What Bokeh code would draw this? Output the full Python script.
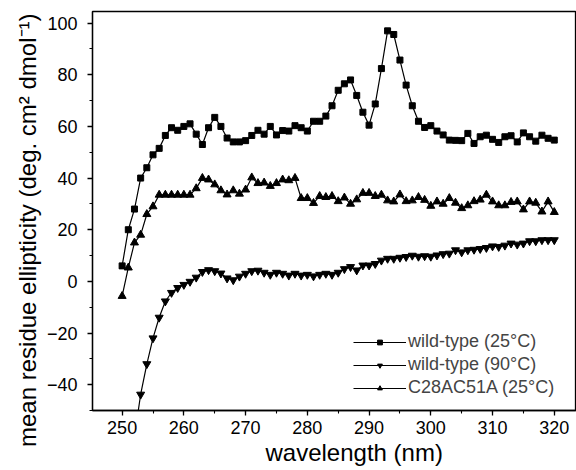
from bokeh.plotting import figure
from bokeh.models import Range1d, SingleIntervalTicker, Legend, LegendItem, Title
from bokeh.embed import file_html
from bokeh.resources import INLINE

# wavelengths (nm)
wl = list(range(250, 321))
wl90 = list(range(252, 321))

# wild-type (25 C)
wt25 = [6, 20, 28, 40, 44, 49, 51.5, 56.5, 59.5, 58.5,
        60, 61, 57, 53, 59.5, 63.5, 60, 55.5, 54, 54,
        54.5, 56.5, 58.5, 57, 60, 56.7, 58.4, 58.2, 60.3, 59.5,
        58.2, 62, 62, 64, 68, 74, 76.5, 78, 72, 65.5,
        60.5, 68.7, 82.4, 97, 95.6, 85.7, 76, 68, 62, 59.6,
        60.3, 58.2, 56.7, 54.7, 54.6, 54.5, 57.3, 53.4, 56, 56.6,
        55, 53.8, 56, 56.4, 54, 57.5, 56, 54.3, 56.6, 55.4, 54.7]

# wild-type (90 C), from 252 nm
wt90 = [-60,
        -43.8, -32, -22, -14, -7.7, -4.4, -2.5,
        -1.3, -0.1, 1.5, 3.7, 4.4, 4, 3.1, 1.2, 0.5, 1.9,
        3, 4, 4.2, 3.4, 2.6, 3.4, 3, 2.3, 3, 2.3,
        2.6, 2, 2.6, 3, 2.6, 3.4, 4.8, 5.6, 4.3, 6.2,
        6.2, 6.8, 8.1, 8.8, 8.8, 9.2, 9.5, 10, 9.6, 9.8,
        9.6, 10.1, 10.6, 10.8, 12.1, 11.3, 12.1, 12.3, 12.6, 13,
        13.6, 13.4, 13.9, 14.7, 14.3, 14.7, 15.6, 15.6, 16, 16, 16]

# C28AC51A (25 C)
c28 = [-5.7, 5.3, 15, 18, 26, 29, 33.5, 33.5, 33.5, 33.5,
       33.5, 33.5, 36, 40, 39.4, 37.5, 35.2, 33.6, 35.2, 33.9,
       35.5, 40.2, 38, 38.2, 36.9, 38, 39.4, 39.1, 40, 32.2,
       32.2, 30.3, 33, 32.6, 33, 31, 32.4, 30, 31.7, 34.2,
       34.2, 33, 33.5, 31.3, 30.9, 33.6, 31, 31.3, 32.6, 31.5,
       29.2, 30.9, 30, 32.2, 30.4, 28.3, 29.4, 31, 31.6, 33.5,
       30.9, 29.4, 29.4, 30.7, 30.9, 27.8, 30.9, 30.4, 27, 30.9, 26.8]

labels = ["wild-type (25°C)", "wild-type (90°C)", "C28AC51A (25°C)"]
x_title = "wavelength (nm)"
y_title = "mean residue ellipticity (deg. cm² dmol⁻¹)"

FONT = "Liberation Sans"

p = figure(width=576, height=470, output_backend="svg", toolbar_location=None,
           x_range=Range1d(245.2, 323.6), y_range=Range1d(-50, 104.5),
           min_border_left=92, min_border_right=0, min_border_top=11,
           min_border_bottom=60)

p.grid.visible = False
p.outline_line_color = "black"
p.outline_line_width = 1.3

p.xaxis.ticker = SingleIntervalTicker(interval=10, num_minor_ticks=2)
p.yaxis.ticker = SingleIntervalTicker(interval=20, num_minor_ticks=2)

for ax in (p.xaxis, p.yaxis):
    ax.axis_line_width = 1.3
    ax.major_tick_line_width = 1.3
    ax.minor_tick_line_width = 1.1
    ax.major_tick_in = 0
    ax.major_tick_out = 5
    ax.minor_tick_in = 0
    ax.minor_tick_out = 3
    ax.major_label_text_font = FONT
    ax.major_label_text_font_size = "18px"
    ax.major_label_text_color = "black"

p.xaxis.major_label_standoff = 5
p.yaxis.major_label_standoff = 10

# axis titles as side panels
p.add_layout(Title(text=y_title, align="right", offset=2, standoff=5, text_font=FONT,
                   text_font_size="24px", text_font_style="normal",
                   text_color="black"), "left")
p.add_layout(Title(text=x_title, align="left", offset=173, standoff=0, text_font=FONT,
                   text_font_size="24px", text_font_style="normal",
                   text_color="black"), "below")

markers = ["square", "inverted_triangle", "triangle"]

l1 = p.line(wl, wt25, line_color="black", line_width=1.2)
s1 = p.scatter(wl, wt25, marker=markers[0], size=6, fill_color="black", line_color="black")
l2 = p.line(wl90, wt90, line_color="black", line_width=1.2)
s2 = p.scatter(wl90, wt90, marker=markers[1], size=8, fill_color="black", line_color="black")
l3 = p.line(wl, c28, line_color="black", line_width=1.2)
s3 = p.scatter(wl, c28, marker=markers[2], size=8, fill_color="black", line_color="black")

legend = Legend(items=[LegendItem(label=labels[0], renderers=[l1, s1]),
                       LegendItem(label=labels[1], renderers=[l2, s2]),
                       LegendItem(label=labels[2], renderers=[l3, s3])],
                location=(261, 12), border_line_color=None,
                background_fill_alpha=0, padding=0, margin=0, spacing=2,
                glyph_width=53, glyph_height=12, label_height=20, label_standoff=2,
                label_text_font=FONT, label_text_font_size="18px")
p.add_layout(legend)

open("out.html", "w").write(file_html(p, INLINE))
